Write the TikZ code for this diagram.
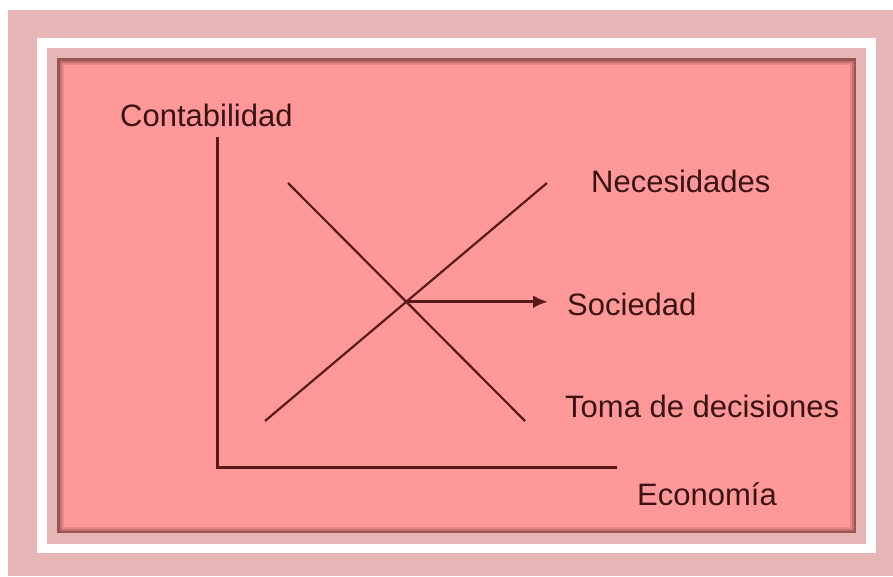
\documentclass[tikz,border=0pt]{standalone}
\usepackage{fontspec}
\setmainfont{Liberation Sans}
\usepackage{xcolor}
\usepackage{tikz}
\usetikzlibrary{calc}
\usetikzlibrary{arrows.meta}
\usetikzlibrary{intersections}

\definecolor{outerpink}{HTML}{E6B6B6}
\definecolor{salmon}{HTML}{FF9999}
\definecolor{edgeshade}{HTML}{9A5454}
\definecolor{ink}{HTML}{3C1212}
\definecolor{wire}{HTML}{5A1A1A}

\tikzset{
	lbl/.style={anchor=base west,inner sep=0pt,text=ink,font=\fontsize{31}{36}\selectfont},
	axisline/.style={line width=3pt,draw=wire},
	diagline/.style={line width=2.2pt,draw=wire}
}

\begin{document}
\begin{tikzpicture}[x=1pt,y=-1pt]
	\useasboundingbox (0,0) rectangle (893,576);
	\fill[white] (0,0) rectangle (893,576);
	\fill[outerpink] (8,10) rectangle (893,576);
	\fill[white] (37,38) rectangle (876,553);
	\fill[outerpink] (47,48) rectangle (866,544);
	\fill[salmon] (57,58) rectangle (856,533);
	\draw[draw=edgeshade,line width=2.5pt] (58.25,59.25) rectangle (854.75,531.75);
	\draw[draw=edgeshade!60!salmon,line width=2pt] (60.5,61.5) rectangle (852.5,529.5);
	\draw[draw=edgeshade!25!salmon,line width=2pt] (62.5,63.5) rectangle (850.5,527.5);

	\node[lbl] (conta) at (120,126) {Contabilidad};
	\node[lbl] (neces) at (591,192) {Necesidades};
	\node[lbl] (socie) at (567,315) {Sociedad};
	\node[lbl] (toma) at (565,417) {Toma de decisiones};
	\node[lbl] (econo) at (637,505) {Economía};

	\coordinate (ytop) at (217,137);
	\coordinate (orig) at (217,467);
	\coordinate (xend) at (617,467);
	\draw[axisline] (ytop) -- (orig) -- (xend);

	\coordinate (dtop) at (288,183);
	\coordinate (dbot) at (525,421);
	\coordinate (utop) at (547,183);
	\coordinate (ubot) at (265,421);
	\draw[diagline,name path=down] (dtop) -- (dbot);
	\draw[diagline,name path=up] (ubot) -- (utop);
	\path[name intersections={of=down and up,by=cross}];
	\coordinate (stip) at (548,302);
	\draw[axisline,-{Latex[length=15pt,width=13pt]}] (cross) -- (stip |- cross);
\end{tikzpicture}
\end{document}
